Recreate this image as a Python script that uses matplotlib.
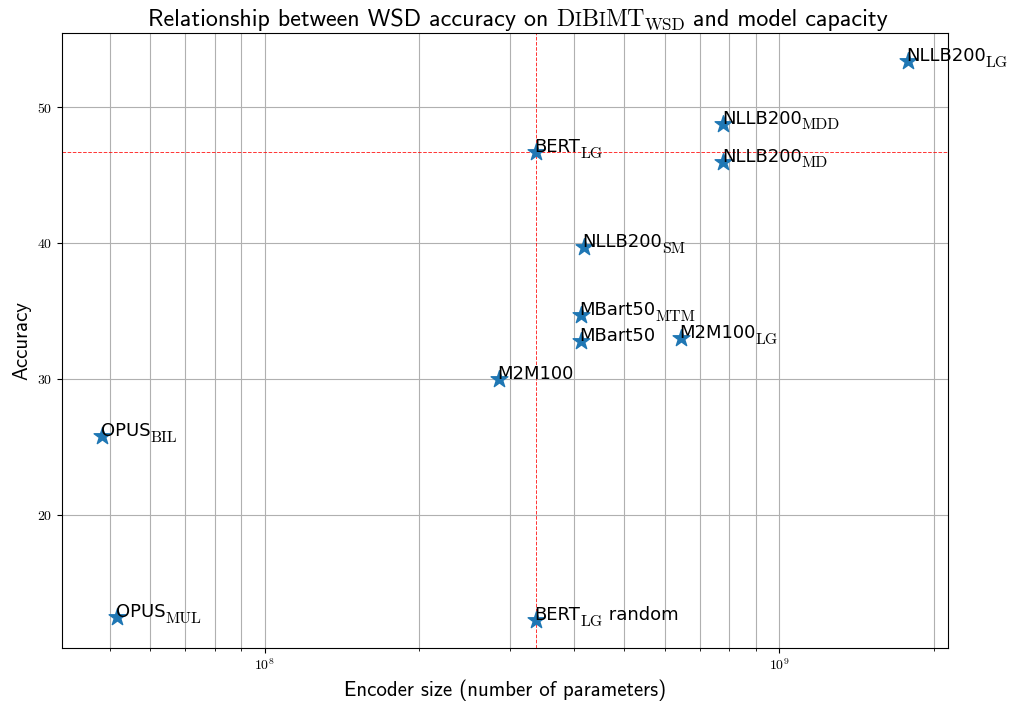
import matplotlib
matplotlib.use("Agg")
import matplotlib.pyplot as plt

plt.rcParams["mathtext.fontset"] = "cm"
plt.rcParams["axes.formatter.use_mathtext"] = True

# model name, subscript, trailing text
names = ["OPUS", "OPUS", "M2M100", "BERT", "BERT", "NLLB200", "MBart50",
         "MBart50", "M2M100", "NLLB200", "NLLB200", "NLLB200"]
subs = ["BIL", "MUL", "", "LG", "LG", "SM", "MTM", "", "LG", "MDD", "MD", "LG"]
suffixes = ["", "", "", "", " random", "", "", "", "", "", "", ""]
# encoder sizes (parameters) and WSD accuracy
params = [4.84e7, 5.18e7, 2.85e8, 3.37e8, 3.37e8, 4.18e8, 4.12e8, 4.12e8,
          6.43e8, 7.79e8, 7.79e8, 1.776e9]
accuracy = [25.8, 12.5, 30.0, 46.7, 12.3, 39.7, 34.7, 32.8, 33.0, 48.8,
            46.0, 53.4]

# reference model for the dashed guide lines
ref_size = 3.37e8
ref_acc = 46.7

fig = plt.figure(figsize=(10.13, 7.02), dpi=100)
ax = fig.add_axes([0.0612, 0.0769, 0.8746, 0.8761])

ax.scatter(params, accuracy, marker="*", s=160, color="tab:blue", zorder=3)
for name, sub, suf, x, y in zip(names, subs, suffixes, params, accuracy):
    main = ax.annotate(name, (x, y), xytext=(-1.2, 0), textcoords="offset points",
                       fontsize=13, family="DejaVu Sans", zorder=4)
    last = main
    if sub:
        last = ax.annotate(sub, xy=(1, 0), xycoords=main, va="baseline",
                           xytext=(0, -1.3), textcoords="offset points",
                           fontsize=11.3, family="cmr10", zorder=4)
    if suf:
        ax.annotate(suf, xy=(1, 0), xycoords=(last, main), va="bottom",
                    fontsize=13, family="DejaVu Sans", zorder=4)

ax.axhline(ref_acc, color="red", ls="--", lw=0.7, alpha=0.8)
ax.axvline(ref_size, color="red", ls="--", lw=0.7, alpha=0.8)

ax.set_xscale("log")
ax.grid(True, which="both", axis="x")
ax.grid(True, which="major", axis="y")
ax.set_axisbelow(True)
ax.tick_params(labelsize=10, labelfontfamily="cmr10")

ax.set_xlabel("Encoder size (number of parameters)", family="cmss10", fontsize=15)
ax.set_ylabel("Accuracy", family="cmss10", fontsize=15)

# title pieces: (text, family, size, lowered)
tsize = 17.3
title_parts = [
    ("Relationship between WSD accuracy on ", "cmss10", tsize, False),
    ("D", "cmr10", tsize, False),
    ("I", "cmr10", 13.5, False),
    ("B", "cmr10", tsize, False),
    ("I", "cmr10", 13.5, False),
    ("MT", "cmr10", tsize, False),
    ("WSD", "cmr10", 12.5, True),
    (" and model capacity", "cmss10", tsize, False),
]
base_y = 1.012
first = ax.text(0.5, base_y, title_parts[0][0], family=title_parts[0][1],
                fontsize=title_parts[0][2], transform=ax.transAxes,
                ha="left", va="baseline")
pieces = [first]
for text, fam, size, lowered in title_parts[1:]:
    t = ax.annotate(text, xy=(1, base_y), xycoords=(pieces[-1], ax.transAxes),
                    xytext=(0, -3.5 if lowered else 0), textcoords="offset points",
                    family=fam, fontsize=size, va="baseline", annotation_clip=False)
    pieces.append(t)

# place the assembled title a little right of the axes centre
fig.canvas.draw()
r = fig.canvas.get_renderer()
x0 = pieces[0].get_window_extent(r).x0
x1 = pieces[-1].get_window_extent(r).x1
axbox = ax.get_window_extent(r)
shift = (axbox.x0 + axbox.width / 2 + 13) - (x0 + x1) / 2
first.set_x(0.5 + shift / axbox.width)

fig.savefig("out.png", dpi=100)
